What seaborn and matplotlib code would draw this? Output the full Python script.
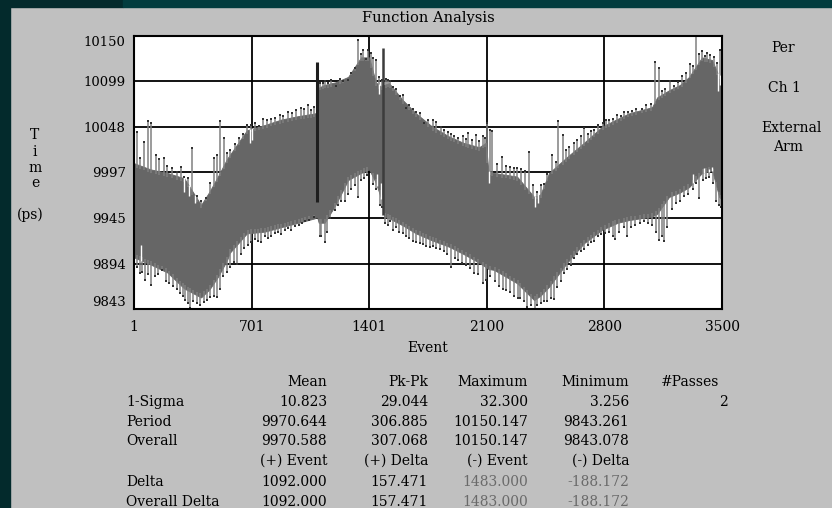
import numpy as np
import pandas as pd
import matplotlib
matplotlib.use("Agg")
import matplotlib.pyplot as plt
from matplotlib.patches import Rectangle
import seaborn as sns

# ---- period trace: core envelope of the sampled periods (ps) ----
events = [1, 100, 200, 300, 400, 450, 500, 555, 570, 673, 780, 876, 980, 1078,
          1090, 1100, 1135, 1200, 1275, 1352, 1400, 1440, 1470, 1482, 1490, 1519,
          1600, 1679, 1776, 1876, 1960, 2055, 2095, 2110, 2143, 2280, 2382, 2420,
          2471, 2578, 2679, 2786, 2880, 2947, 3084, 3114, 3185, 3250, 3304, 3381,
          3441, 3483, 3500]
upper = [10007, 10000, 9996, 9990, 9960, 9975, 9992, 10012, 10016, 10044, 10050,
         10056, 10060, 10063, 10064, 10092, 10095, 10098, 10104, 10126, 10126,
         10098, 10093, 10095, 10095, 10097, 10078, 10063, 10048, 10037, 10030,
         10025, 10030, 9998, 9996, 9992, 9969, 9972, 9996, 10014, 10030, 10048,
         10057, 10063, 10070, 10081, 10089, 10095, 10104, 10126, 10123, 10104, 10108]
lower = [9901, 9893, 9884, 9866, 9856, 9865, 9879, 9898, 9906, 9928, 9930, 9935,
         9940, 9945, 9947, 9940, 9940, 9960, 9988, 9996, 10000, 9985, 9968, 9966,
         9947, 9945, 9937, 9928, 9920, 9913, 9905, 9895, 9890, 9888, 9887, 9872,
         9853, 9858, 9868, 9895, 9917, 9932, 9940, 9943, 9947, 9950, 9969, 9974,
         9980, 9996, 9999, 9969, 9966]

# single-cycle excursions above the core band
spike_up_events = [
    21, 37, 61, 84, 100, 130, 150, 180, 200, 230, 259, 279, 300, 320, 349, 375,
    398, 428, 454, 478, 494, 514, 534, 554, 574, 600, 625, 650, 676, 700,
    720, 745, 768, 790, 818, 840, 867, 890, 917, 940, 966, 996, 1015, 1036, 1056,
    1075, 1110, 1125, 1140, 1155, 1175, 1205, 1225, 1245, 1274, 1295, 1314, 1334,
    1350, 1364, 1383, 1392, 1412, 1425, 1442, 1460, 1475, 1500, 1511, 1525, 1541,
    1560, 1581, 1600, 1620, 1640, 1660, 1680, 1700, 1729, 1750, 1779, 1800, 1825,
    1848, 1870, 1890, 1908, 1930, 1957, 1975, 1987, 2010, 2037, 2055, 2077, 2090,
    2104, 2120, 2133, 2160, 2193, 2215, 2240, 2260, 2283, 2305, 2330, 2352, 2375,
    2400, 2420, 2441, 2460, 2491, 2510, 2525, 2551, 2570, 2590, 2620, 2640, 2660,
    2680, 2700, 2720, 2739, 2760, 2789, 2810, 2825, 2850, 2875, 2900, 2915, 2940,
    2965, 2990, 3024, 3050, 3075, 3104, 3124, 3140, 3160, 3193, 3215, 3240, 3263,
    3285, 3312, 3330, 3346, 3365, 3382, 3400, 3411, 3431, 3450, 3470, 3491]
spike_up_values = [
    10042, 10013, 10031, 10054, 10052, 10016, 10012, 10013, 10004, 10002, 9997,
    10003, 9992, 9990, 10024, 9970, 9965, 9968, 9985, 10013, 10016, 10054, 10035,
    10018, 10022, 10028, 10035, 10040, 10050, 10050,
    10052, 10049, 10057, 10055, 10057, 10058, 10061, 10060, 10065, 10063, 10067,
    10069, 10068, 10072, 10067, 10070, 10097, 10097, 10099, 10097, 10100, 10094,
    10102, 10099, 10101, 10108, 10114, 10146, 10130, 10134, 10124, 10134, 10131,
    10125, 10123, 10104, 10100, 10102, 10100, 10099, 10093, 10090, 10082, 10084,
    10069, 10072, 10068, 10065, 10063, 10052, 10056, 10056, 10053, 10048, 10044,
    10042, 10040, 10037, 10035, 10037, 10034, 10041, 10033, 10039, 10032, 10037,
    10035, 10052, 10044, 10043, 10006, 10014, 10004, 10003, 10002, 10001, 10000,
    9998, 10020, 9982, 9975, 9982, 9984, 9995, 10016, 10008, 10054, 10039, 10022,
    10025, 10030, 10033, 10037, 10046, 10040, 10043, 10044, 10050, 10052, 10055,
    10056, 10057, 10061, 10060, 10065, 10065, 10066, 10068, 10068, 10072, 10073,
    10121, 10114, 10088, 10090, 10099, 10094, 10098, 10105, 10108, 10119, 10116,
    10150, 10130, 10133, 10128, 10131, 10129, 10126, 10120, 10134]

# single-cycle excursions below the core band
spike_dn_events = [
    16, 36, 50, 66, 85, 105, 125, 145, 165, 190, 210, 234, 255, 274, 290, 304,
    320, 334, 355, 374, 395, 415, 433, 455, 475, 493, 515, 533, 555, 574, 595,
    614, 635, 655, 680, 698, 720, 740, 758, 780, 800, 818, 840, 860, 877, 900,
    918, 937, 960, 980, 1000, 1020, 1045, 1070, 1110, 1115, 1135, 1150, 1170,
    1195, 1215, 1235, 1255, 1275, 1295, 1314, 1334, 1350, 1370, 1390, 1422, 1440,
    1462, 1475, 1495, 1510, 1525, 1541, 1560, 1580, 1600, 1620, 1640, 1660, 1680,
    1700, 1720, 1739, 1760, 1780, 1800, 1820, 1845, 1865, 1888, 1910, 1930, 1955,
    1977, 2000, 2027, 2050, 2077, 2095, 2120, 2150, 2173, 2195, 2215, 2240, 2263,
    2285, 2300, 2322, 2342, 2365, 2385, 2402, 2420, 2440, 2461, 2480, 2501, 2520,
    2540, 2560, 2580, 2600, 2620, 2640, 2660, 2680, 2700, 2720, 2740, 2760, 2780,
    2806, 2830, 2850, 2865, 2890, 2915, 2935, 2960, 2985, 3010, 3035, 3060, 3085,
    3105, 3124, 3140, 3153, 3175, 3200, 3225, 3253, 3275, 3300, 3325, 3345, 3362,
    3385, 3405, 3425, 3445, 3465, 3481, 3495]
spike_dn_values = [
    9890, 9883, 9885, 9876, 9882, 9870, 9880, 9882, 9887, 9875, 9872, 9869, 9866,
    9861, 9858, 9853, 9850, 9844, 9852, 9850, 9848, 9851, 9853, 9856, 9858, 9857,
    9866, 9880, 9885, 9890, 9896, 9894, 9905, 9912, 9915, 9918, 9922, 9920, 9918,
    9925, 9923, 9925, 9928, 9930, 9927, 9932, 9934, 9932, 9936, 9937, 9940, 9942,
    9943, 9946, 9925, 9925, 9918, 9930, 9945, 9954, 9960, 9964, 9965, 9972, 9978,
    9982, 9969, 9988, 9990, 9994, 9984, 9978, 9960, 9958, 9940, 9938, 9942, 9932,
    9935, 9930, 9928, 9925, 9923, 9920, 9918, 9917, 9916, 9914, 9913, 9914, 9912,
    9910, 9908, 9905, 9890, 9900, 9898, 9895, 9893, 9889, 9884, 9882, 9872, 9876,
    9880, 9875, 9869, 9866, 9864, 9862, 9858, 9855, 9855, 9852, 9845, 9848, 9843,
    9847, 9850, 9852, 9852, 9855, 9854, 9868, 9875, 9884, 9888, 9893, 9900, 9905,
    9908, 9910, 9915, 9918, 9920, 9925, 9927, 9928, 9930, 9925, 9922, 9930, 9935,
    9925, 9935, 9938, 9940, 9942, 9940, 9938, 9930, 9921, 9925, 9919, 9935, 9955,
    9962, 9964, 9970, 9972, 9978, 9985, 9968, 9988, 9990, 9992, 9985, 9965, 9960,
    9958]

# short cycles cutting into the band from above / longer ones from below
notch_up_events = [300, 330, 365, 690, 705, 1460, 2115, 2385, 2405, 3475, 3490]
notch_up_values = [9975, 9970, 9962, 10030, 10033, 10085, 9985, 9958, 9962, 10088, 10095]
notch_dn_events = [40, 1445, 1470, 3330, 3395, 3420, 3440]
notch_dn_values = [9915, 9995, 9985, 9995, 10002, 10000, 10003]

# largest cycle-to-cycle deltas
delta_events = [1092, 1483]
delta_start = [9963.0, 10136.5]
delta_values = [157.471, -188.172]

x_ticks = [1, 701, 1401, 2100, 2800, 3500]
y_ticks = [9843, 9894, 9945, 9997, 10048, 10099, 10150]

# ---- statistics table ----
col_headers = ["Mean", "Pk-Pk", "Maximum", "Minimum"]
row_names = ["1-Sigma", "Period", "Overall"]
row_values = [["10.823", "29.044", "32.300", "3.256"],
              ["9970.644", "306.885", "10150.147", "9843.261"],
              ["9970.588", "307.068", "10150.147", "9843.078"]]
passes = "2"
delta_headers = ["(+) Event", "(+) Delta", "(-) Event", "(-) Delta"]
delta_rows = ["Delta", "Overall Delta"]
delta_table = [["1092.000", "157.471", "1483.000", "-188.172"],
               ["1092.000", "157.471", "1483.000", "-188.172"]]

sns.set_style("white")
plt.rcParams["font.family"] = ["DejaVu Serif"]

W, H = 832, 508
fig = plt.figure(figsize=(W / 100, H / 100), dpi=100, facecolor="#c0c0c0")

# window frame
fig.patches.append(Rectangle((0, 0), 10 / W, 1, transform=fig.transFigure,
                             color="#032a2c", zorder=0))
fig.patches.append(Rectangle((0, 1 - 7 / H), 123 / W, 7 / H, transform=fig.transFigure,
                             color="#032a2c", zorder=0))
fig.patches.append(Rectangle((123 / W, 1 - 7 / H), 1 - 123 / W, 7 / H,
                             transform=fig.transFigure, color="#023c3e", zorder=0))

ax = fig.add_axes([134 / W, 1 - 309 / H, (722 - 134) / W, (309 - 36) / H])
ax.set_facecolor("white")

band = "#666666"
spike = "#808080"
ink = "#000000"

df = pd.DataFrame({
    "event": events + events,
    "time": upper + lower,
})
sns.lineplot(data=df, x="event", y="time", estimator="mean",
             errorbar=lambda v: (v.min(), v.max()), linewidth=0, ax=ax,
             color=band, err_kws=dict(alpha=1, linewidth=0.6, zorder=3),
             legend=False)

up_base = np.interp(spike_up_events, events, upper) - 4
dn_base = np.interp(spike_dn_events, events, lower) + 4
ax.vlines(spike_up_events, up_base, spike_up_values, color=spike, lw=1.1, zorder=4)
ax.vlines(spike_dn_events, dn_base, spike_dn_values, color=spike, lw=1.1, zorder=4)
ax.scatter(spike_up_events, spike_up_values, s=1.0, color="#333333", marker="s",
           lw=0, zorder=5)
ax.scatter(spike_dn_events, spike_dn_values, s=1.0, color="#333333", marker="s",
           lw=0, zorder=5)

nu_top = np.interp(notch_up_events, events, upper) + 1
nd_bot = np.interp(notch_dn_events, events, lower) - 1
ax.vlines(notch_up_events, notch_up_values, nu_top, color="white", lw=1.0, zorder=4)
ax.vlines(notch_dn_events, nd_bot, notch_dn_values, color="white", lw=1.0, zorder=4)

ends = [s + d for s, d in zip(delta_start, delta_values)]
ax.vlines(delta_events[0], delta_start[0], ends[0], color="#1e1e1e", lw=2.2, zorder=6)
ax.vlines(delta_events[1], delta_start[1], ends[1], color="#3c3c3c", lw=1.8, zorder=6)

ax.set_xlim(1, 3500)
ax.set_ylim(9843, 10150)
ax.set_xticks(x_ticks)
ax.set_yticks(y_ticks)
ax.set_xticklabels([str(t) for t in x_ticks])
ax.set_yticklabels([str(t) for t in y_ticks])
ax.grid(True, color="black", lw=1.3, zorder=1)
ax.set_axisbelow(True)
for s in ax.spines.values():
    s.set_color("black")
    s.set_linewidth(1.5)
    s.set_zorder(7)
ax.tick_params(length=0, labelsize=9.5, colors=ink, pad=6)
ax.tick_params(axis="x", labelsize=10, pad=8)
ylabels = ax.get_yticklabels()
ylabels[0].set_va("bottom")
ylabels[-1].set_va("top")
ax.set_xlabel("Event", fontsize=10, color=ink, labelpad=5)
ax.set_ylabel("")

def put(x, y, s, ha="center", color=ink, size=10):
    fig.text(x / W, 1 - y / H, s, ha=ha, va="center", color=color, fontsize=size)

put(428, 18, "Function Analysis", size=10.5)
put(783, 48, "Per")
put(784, 88, "Ch 1")
put(791, 128, "External")
put(788, 147, "Arm")
for ch, yy in zip("Time", [135, 152, 168, 183]):
    put(35, yy, ch)
put(30, 215, "(ps)")

col_right = [327, 428, 528, 629]
row_y = [402, 422, 441]
for x, h in zip(col_right, col_headers):
    put(x, 382, h, ha="right")
put(719, 382, "#Passes", ha="right")
for y, name, vals in zip(row_y, row_names, row_values):
    put(126, y, name, ha="left")
    for x, v in zip(col_right, vals):
        put(x, y, v, ha="right")
put(728, 402, passes, ha="right")
for x, h in zip(col_right, delta_headers):
    put(x, 461, h, ha="right")
for y, name, vals in zip([482, 502], delta_rows, delta_table):
    put(126, y, name, ha="left")
    for i, (x, v) in enumerate(zip(col_right, vals)):
        put(x, y, v, ha="right", color=ink if i < 2 else "#6a6a6a")

fig.savefig("out.png", dpi=100, facecolor=fig.get_facecolor())
